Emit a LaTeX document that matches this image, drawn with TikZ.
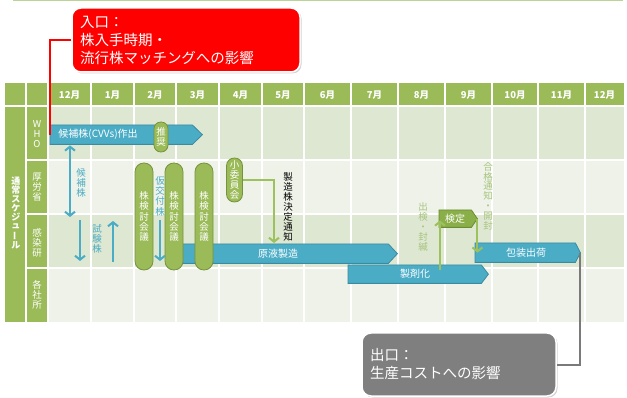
\documentclass[tikz,border=0pt]{standalone}
\usepackage{fontspec}
\setmainfont{Noto Sans CJK JP}
\usetikzlibrary{arrows.meta,calc,shadows}
\definecolor{hdrgreen}{HTML}{9BBB59}
\definecolor{topline}{HTML}{B9D494}
\definecolor{rowdark}{HTML}{DEE7D1}
\definecolor{rowlight}{HTML}{EEF2E8}
\definecolor{barblue}{HTML}{4BACC6}
\definecolor{barbluedark}{HTML}{3A8AA0}
\definecolor{pillgreen}{HTML}{9BBB59}
\definecolor{pilldark}{HTML}{76923C}
\definecolor{kenteifill}{HTML}{8AAF48}
\definecolor{kenteidark}{HTML}{6A8C32}
\definecolor{notegreen}{HTML}{A8C47E}
\definecolor{arrowgreen}{HTML}{9DC15C}
\definecolor{redfill}{HTML}{FF0000}
\definecolor{grayfill}{HTML}{7F7F7F}
\definecolor{grayline}{HTML}{7A7A7A}
\newcommand\arrowbar[3]{\filldraw[#3] (#1.north west) -- (#1.north east) -- ([xshift=#2]#1.east) -- (#1.south east) -- (#1.south west) -- cycle;}
\tikzset{
  gridline/.style={white, line width=1.3pt},
  monthlbl/.style={text=white, font=\fontsize{9.5}{10}\selectfont\bfseries, inner sep=0pt},
  rowlbl/.style={text=white, align=center, inner sep=0pt, font=\fontsize{9.5}{10}\selectfont},
  barbody/.style={rectangle, inner sep=0pt, anchor=north west},
  bluefill/.style={fill=barblue, draw=barbluedark, line width=0.8pt},
  greenfill/.style={fill=kenteifill, draw=kenteidark, line width=0.8pt},
  bartext/.style={text=white, inner sep=0pt, font=\fontsize{10}{10}\selectfont},
  pill/.style={rectangle, fill=pillgreen, draw=pilldark, line width=0.8pt, text=white, align=center, inner sep=0pt, font=\fontsize{9.5}{10.3}\selectfont},
  vnote/.style={align=center, inner sep=0pt, font=\fontsize{9.5}{10.3}\selectfont},
  bluearrow/.style={draw=barblue, line width=2pt, -{Straight Barb[length=4pt,width=10pt]}},
  greenarrow/.style={draw=arrowgreen, line width=2pt, -{Straight Barb[length=4pt,width=10pt]}},
  callout/.style={rectangle, rounded corners=9pt, draw=white, line width=1.5pt, text=white, align=left, inner xsep=8pt, inner ysep=0pt, font=\fontsize{14.5}{18}\selectfont, drop shadow={shadow xshift=1.5pt, shadow yshift=-1.5pt, opacity=0.35}}
}
\begin{document}
\begin{tikzpicture}[x=1pt,y=-1pt]
\useasboundingbox (0,0) rectangle (627,398);
% top line
\draw[topline, line width=1.5pt] (13,0.75) -- (623,0.75);
% table
\fill[hdrgreen] (5,83) rectangle (624,106);
\fill[rowdark] (48,106) rectangle (624,160);
\fill[rowlight] (48,160) rectangle (624,214);
\fill[rowdark] (48,214) rectangle (624,268);
\fill[rowlight] (48,268) rectangle (624,322);
\fill[hdrgreen] (5,106) rectangle (48,322);
\foreach \x in {26,48,91,134,176,219,262,304,351,398,445,492,538,585}
  \draw[gridline] (\x,83) -- (\x,322);
\draw[gridline] (5,106) -- (624,106);
\foreach \y in {160,214,268}
  \draw[gridline] (26,\y) -- (624,\y);
% month labels
\foreach \x/\m [count=\i] in {69.5/12月,112.5/1月,155/2月,197.5/3月,240.5/4月,283/5月,327.5/6月,374.5/7月,421.5/8月,468.5/9月,515/10月,561.5/11月,604.5/12月}
  \node[monthlbl] (month\i) at (\x,95) {\m};
% row labels
\node[rowlbl, font=\fontsize{9}{8.8}\selectfont\bfseries] (sched) at (16,213) {通\\常\\ス\\ケ\\ジ\\ュ\\\rotatebox[origin=c]{90}{ー}\\ル};
\node[rowlbl] (rwho) at (37,134) {W\\H\\O};
\node[rowlbl] (rmhlw) at (37,187.5) {厚\\労\\省};
\node[rowlbl] (rniid) at (37,243) {感\\染\\研};
\node[rowlbl] (rmfr) at (37,295) {各\\社\\所};
% bars
\node[barbody, minimum width=142pt, minimum height=19pt] (who) at (50,125) {};
\arrowbar{who}{10pt}{bluefill}
\node[bartext] (whot) at (98,134.5) {候補株(CVVs)作出};
\node[barbody, minimum width=208pt, minimum height=19pt] (genryo) at (180,244) {};
\arrowbar{genryo}{9pt}{bluefill}
\node[bartext] (genryot) at (278,253.5) {原液製造};
\node[barbody, minimum width=133pt, minimum height=18pt] (seizai) at (348,265) {};
\arrowbar{seizai}{7pt}{bluefill}
\node[bartext] (seizait) at (415,274) {製剤化};
\node[barbody, minimum width=100pt, minimum height=19pt] (hoso) at (475,243) {};
\arrowbar{hoso}{5pt}{bluefill}
\node[bartext] (hosot) at (526,252.5) {包装出荷};
% pills
\node[pill, rounded corners=6.8pt, minimum width=14pt, minimum height=30pt] (suisho) at (161,137) {推\\奨};
\node[pill, rounded corners=8.8pt, minimum width=18pt, minimum height=107pt] (kaigi1) at (144,216.5) {株\\検\\討\\会\\議};
\node[pill, rounded corners=8.8pt, minimum width=18pt, minimum height=107pt] (kaigi2) at (174,216.5) {株\\検\\討\\会\\議};
\node[pill, rounded corners=8.8pt, minimum width=18pt, minimum height=107pt] (kaigi3) at (204,216.5) {株\\検\\討\\会\\議};
\node[pill, rounded corners=7.8pt, minimum width=16pt, minimum height=44pt] (shoi) at (234.5,180) {小\\委\\員\\会};
% kentei
\node[barbody, minimum width=32pt, minimum height=17pt] (kentei) at (439,210) {};
\arrowbar{kentei}{6pt}{greenfill}
\node[bartext] (kenteit) at (455,218.5) {検定};
% notes
\node[vnote, text=barblue] (n1) at (81,183) {候\\補\\株};
\node[vnote, text=barblue] (n2) at (97,239) {試\\験\\株};
\node[vnote, text=barblue] (n3) at (160,196) {仮\\交\\付\\株};
\node[vnote, text=black, font=\fontsize{9.5}{10}\selectfont] (n4) at (288,207) {製\\造\\株\\決\\定\\通\\知};
\node[vnote, text=notegreen, font=\fontsize{9.5}{10}\selectfont] (n5) at (423,227) {出\\検\\・\\封\\緘};
\node[vnote, text=notegreen, font=\fontsize{9.5}{9.8}\selectfont] (n6) at (488,196) {合\\格\\通\\知\\・\\開\\封};
% blue arrows
\coordinate (kohoend) at (70,217);
\draw[bluearrow, {Straight Barb[length=4pt,width=10pt]}-{Straight Barb[length=4pt,width=10pt]}] ([xshift=20pt,yshift=-1pt]who.south west) -- (kohoend);
\coordinate (s1a) at (80,220); \coordinate (s1b) at (80,261);
\draw[bluearrow] (s1a) -- (s1b);
\coordinate (s2a) at (113,262); \coordinate (s2b) at (113,221);
\draw[bluearrow] (s2a) -- (s2b);
\coordinate (k1a) at (160,220); \coordinate (k1b) at (160,261);
\draw[bluearrow] (k1a) -- (k1b);
% green arrows
\coordinate (kettei) at (274,243);
\draw[greenarrow] (shoi.east) -| (kettei);
\draw[greenarrow] ([xshift=92pt,yshift=-5pt]seizai.north west) -- ([xshift=1pt,yshift=7pt]kentei.south west);
\coordinate (kteitip) at ([xshift=6pt]kentei.east);
\draw[greenarrow] (kteitip) -- (kteitip |- hoso.center);
% callouts
\node[callout, fill=redfill, minimum width=228pt, minimum height=64pt, text width=212pt] (entry) at (186,40) {入口：\\株入手時期・\\流行株マッチングへの影響};
\draw[red, line width=2pt] (entry.west) -| (who.west);
\node[callout, fill=grayfill, minimum width=194pt, minimum height=63pt, text width=178pt] (exit) at (459,364.5) {出口：\\生産コストへの影響};
\coordinate (hosotip) at ([xshift=5pt]hoso.east);
\draw[grayline, line width=2pt] (hosotip) |- (exit.east);
\end{tikzpicture}
\end{document}
